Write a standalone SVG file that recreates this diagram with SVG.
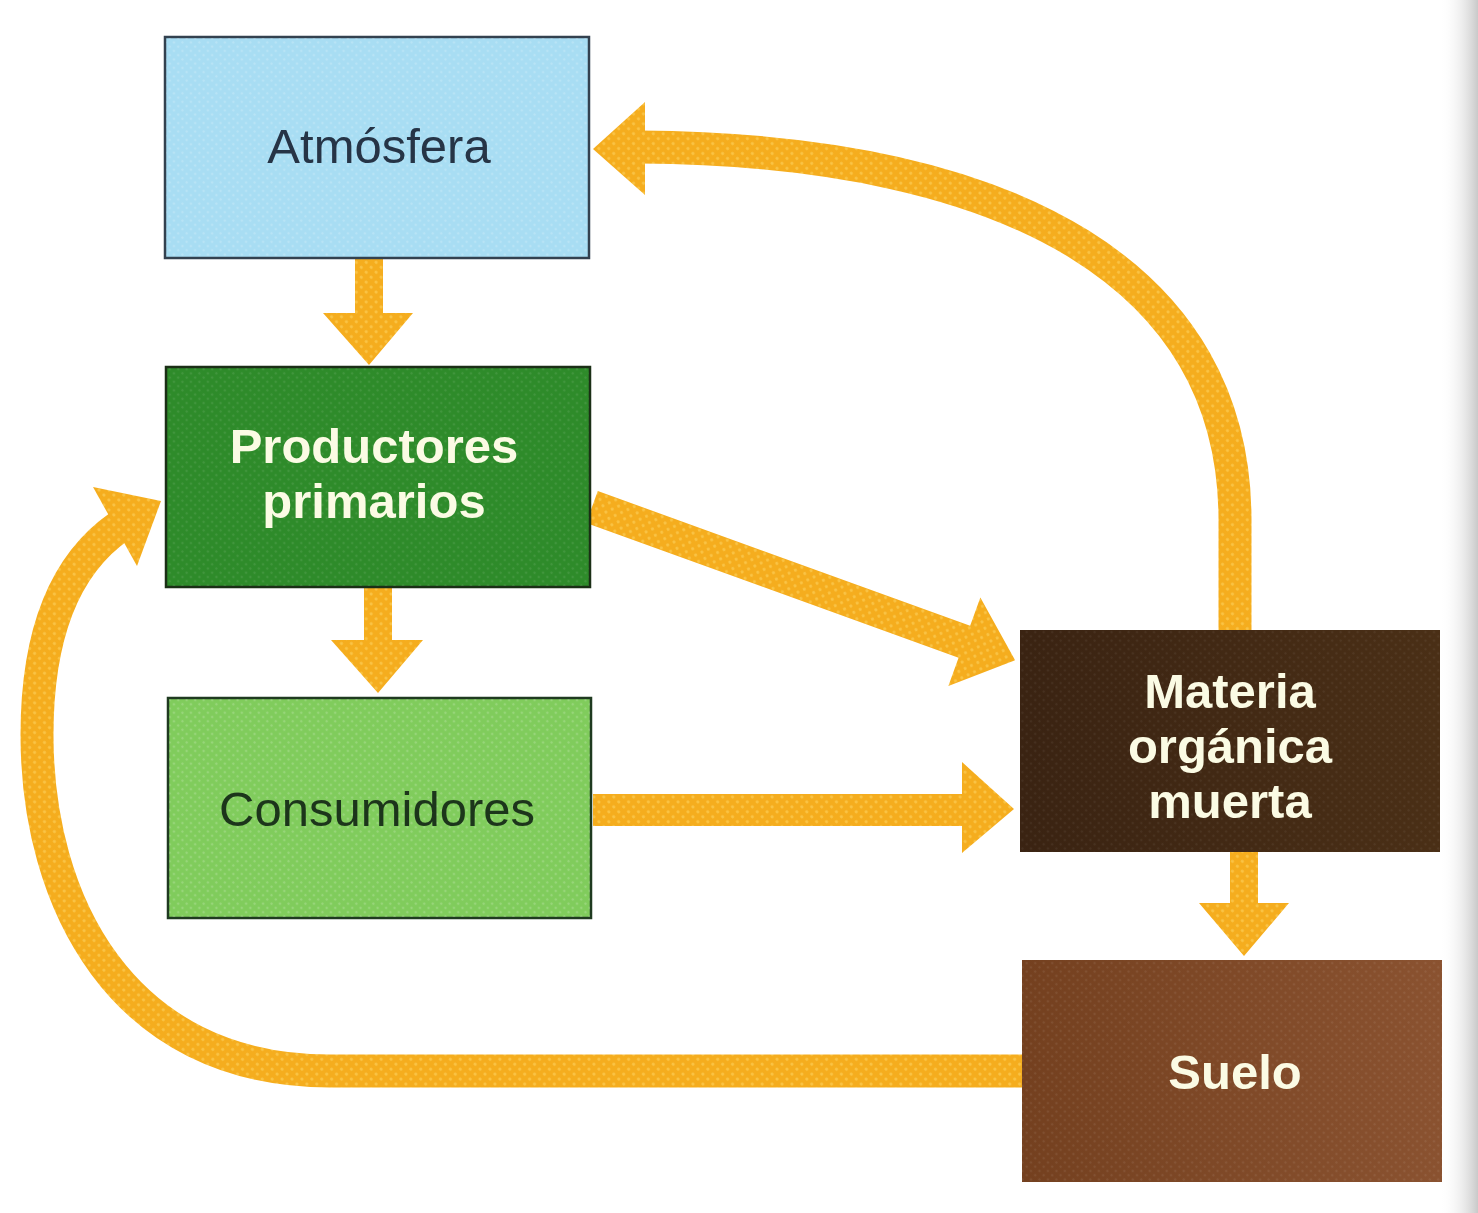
<svg xmlns="http://www.w3.org/2000/svg" width="1478" height="1213" viewBox="0 0 1478 1213">
<defs>
  <pattern id="arrowTex" width="7" height="7" patternUnits="userSpaceOnUse" patternTransform="rotate(45)">
    <rect width="7" height="7" fill="#f5ad1e"/>
    <circle cx="3.5" cy="3.5" r="1.6" fill="#fac446"/>
  </pattern>
  <pattern id="dots" width="6" height="6" patternUnits="userSpaceOnUse" patternTransform="rotate(45)">
    <circle cx="3" cy="3" r="1.3" fill="#ffffff" fill-opacity="0.18"/>
  </pattern>
  <linearGradient id="edge" x1="0" y1="0" x2="1" y2="0">
    <stop offset="0" stop-color="#ffffff" stop-opacity="0"/>
    <stop offset="1" stop-color="#c9c9c9"/>
  </linearGradient>
  <linearGradient id="materiaFill" x1="0" y1="0" x2="1" y2="0">
    <stop offset="0" stop-color="#3a2312"/>
    <stop offset="1" stop-color="#4a2f16"/>
  </linearGradient>
  <linearGradient id="sueloFill" x1="0" y1="0" x2="1" y2="0">
    <stop offset="0" stop-color="#74401f"/>
    <stop offset="1" stop-color="#8a5230"/>
  </linearGradient>
</defs>
<style>
  .shaft { fill: none; stroke: url(#arrowTex); stroke-width: 33; stroke-linecap: butt; }
  .arrow { fill: url(#arrowTex); }
  .tex { fill: url(#dots); }
  .lbl { font-family: "Liberation Sans", Arial, sans-serif; font-size: 49px; text-anchor: middle; }
  .dark { fill: #263446; }
  .light { fill: #fbfbe4; font-weight: bold; }
</style>
<rect width="1478" height="1213" fill="#ffffff"/>
<rect x="1440" y="0" width="38" height="1213" fill="url(#edge)"/>

<g id="connectors">
  <!-- Atmosfera -> Productores -->
  <polygon class="arrow" points="355,258 383,258 383,313 413,313 369,365 323,313 355,313"/>
  <!-- Productores -> Consumidores -->
  <polygon class="arrow" points="364,588 392,588 392,640 423,640 378,693 331,640 364,640"/>
  <!-- Productores -> Materia (diagonal) -->
  <g transform="translate(592,507) rotate(19.9)">
    <polygon class="arrow" points="0,-17 396,-17 396,-47 450,0 396,47 396,17 0,17"/>
  </g>
  <!-- Consumidores -> Materia -->
  <polygon class="arrow" points="593,794 962,794 962,762 1014,809 962,853 962,826 593,826"/>
  <!-- Materia -> Suelo -->
  <polygon class="arrow" points="1230,852 1258,852 1258,903 1289,903 1244,956 1199,903 1230,903"/>
  <!-- Materia -> Atmosfera (curved) -->
  <path class="shaft" d="M1235 631 L1235 520 C1235 280 1020 150 640 147"/>
  <polygon class="arrow" points="645,102 593,149 645,195"/>
  <!-- Suelo -> Productores (curved) -->
  <path class="shaft" d="M1023 1071 L330 1071 C120 1071 37 900 37 735 C37 640 62 566 120 526"/>
  <polygon class="arrow" points="93,487 161,501 137,566"/>
</g>

<g id="atmosfera">
  <rect x="165" y="37" width="424" height="221" fill="#a8ddf3" stroke="#33414f" stroke-width="2.5"/>
  <rect x="166" y="38" width="422" height="219" class="tex"/>
  <text class="lbl dark" x="379" y="163">Atmósfera</text>
</g>

<g id="productores">
  <rect x="166" y="367" width="424" height="220" fill="#2e8b2a" stroke="#1b2f16" stroke-width="2.5"/>
  <rect x="167" y="368" width="422" height="218" class="tex" opacity="0.5"/>
  <text class="lbl light" x="374" y="463">Productores</text>
  <text class="lbl light" x="374" y="518">primarios</text>
</g>

<g id="consumidores">
  <rect x="168" y="698" width="423" height="220" fill="#80cc5c" stroke="#1f3a20" stroke-width="2.5"/>
  <rect x="169" y="699" width="421" height="218" class="tex"/>
  <text class="lbl" x="377" y="826" fill="#1c351b">Consumidores</text>
</g>

<g id="materia">
  <rect x="1020" y="630" width="420" height="222" fill="url(#materiaFill)"/>
  <rect x="1020" y="630" width="420" height="222" class="tex" opacity="0.3"/>
  <text class="lbl light" x="1230" y="708">Materia</text>
  <text class="lbl light" x="1230" y="763">orgánica</text>
  <text class="lbl light" x="1230" y="818">muerta</text>
</g>

<g id="suelo">
  <rect x="1022" y="960" width="420" height="222" fill="url(#sueloFill)"/>
  <rect x="1022" y="960" width="420" height="222" class="tex" opacity="0.4"/>
  <text class="lbl light" x="1235" y="1089">Suelo</text>
</g>
</svg>
